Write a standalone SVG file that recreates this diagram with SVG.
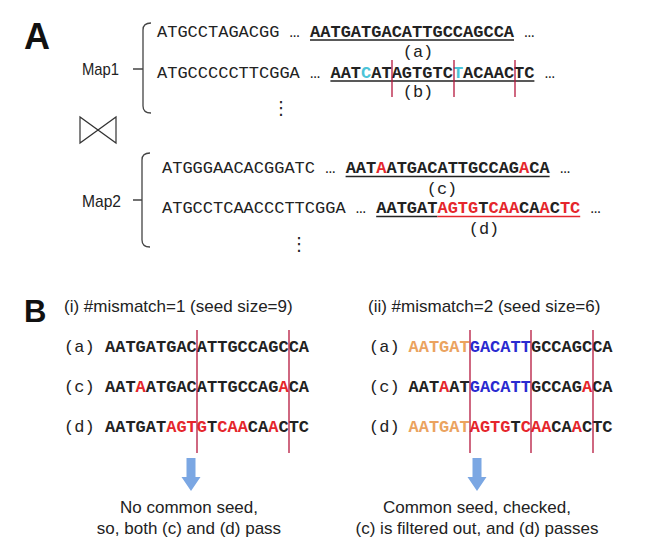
<svg xmlns="http://www.w3.org/2000/svg" width="654" height="548" viewBox="0 0 654 548">
<style>
.seq{font-family:"Liberation Mono","Courier New",monospace;font-size:17px;fill:#222}
.b{font-weight:bold}
.r{fill:#e5262c}
.cy{fill:#4cc4d8}
.bl{fill:#2a2ad0}
.or{fill:#eba35f}
.k{fill:#222}
.sans{font-family:"Liberation Sans",Arial,sans-serif;fill:#222}
.head{font-family:"Liberation Sans",Arial,sans-serif;font-weight:bold;fill:#111}
.vl{stroke:#b5163d;stroke-width:1.3}
.ul{stroke:#222;stroke-width:1.4}
.ulr{stroke:#e5262c;stroke-width:1.4}
.br{fill:none;stroke:#444;stroke-width:1.3}
.dots{font-family:"DejaVu Sans",sans-serif;font-size:18px;fill:#222}
</style>
<rect width="654" height="548" fill="#fff"/>

<g id="panelA">
  <text class="head" x="24" y="49" font-size="36">A</text>
  <g id="map1">
    <text class="sans" x="82" y="75" font-size="17" textLength="37" lengthAdjust="spacingAndGlyphs">Map1</text>
    <path class="br" d="M151,23 Q143,23 143,30 L143,106 Q143,113 151,113 M133,69 L143,69"/>
    <text class="seq" x="157" y="37">ATGCCTAGACGG … <tspan class="b">AATGATGACATTGCCAGCCA</tspan> …</text>
    <line class="ul" x1="310" y1="40" x2="514" y2="40"/>
    <text class="seq" x="418" y="57" text-anchor="middle">(a)</text>
    <text class="seq" x="157" y="78">ATGCCCCCTTCGGA … <tspan class="b">AAT<tspan class="cy">C</tspan>ATAGTGTC<tspan class="cy">T</tspan>ACAACTC</tspan> …</text>
    <line class="ul" x1="330.4" y1="81" x2="534.4" y2="81"/>
    <text class="seq" x="418" y="97" text-anchor="middle">(b)</text>
    <line class="vl" x1="392" y1="60" x2="392" y2="97"/>
    <line class="vl" x1="454" y1="60" x2="454" y2="97"/>
    <line class="vl" x1="515" y1="60" x2="515" y2="97"/>
    <text class="dots" x="281" y="114" text-anchor="middle">⋮</text>
  </g>
  <g id="bowtie">
    <path fill="none" stroke="#333" stroke-width="1.2" d="M80,117 L80,143 L116,117 L116,143 Z"/>
  </g>
  <g id="map2">
    <text class="sans" x="82" y="207" font-size="17" textLength="39" lengthAdjust="spacingAndGlyphs">Map2</text>
    <path class="br" d="M150,153 Q142,153 142,160 L142,240 Q142,247 150,247 M133,200 L142,200"/>
    <text class="seq" x="162" y="173">ATGGGAACACGGATC … <tspan class="b">AAT<tspan class="r">A</tspan>ATGACATTGCCAG<tspan class="r">A</tspan>CA</tspan> …</text>
    <line class="ul" x1="345.6" y1="176.5" x2="549.6" y2="176.5"/>
    <text class="seq" x="442" y="194" text-anchor="middle">(c)</text>
    <text class="seq" x="162" y="213">ATGCCTCAACCCTTCGGA … <tspan class="b">AATGAT<tspan class="r">AGTG</tspan>T<tspan class="r">CAA</tspan>CA<tspan class="r">A</tspan>C<tspan class="r">TC</tspan></tspan> …</text>
    <line class="ul" x1="376.2" y1="216.5" x2="437.4" y2="216.5"/>
    <line class="ulr" x1="437.4" y1="216.5" x2="580.2" y2="216.5"/>
    <text class="seq" x="484" y="234" text-anchor="middle">(d)</text>
    <text class="dots" x="299" y="250" text-anchor="middle">⋮</text>
  </g>
</g>

<g id="panelB">
  <text class="head" x="24" y="322" font-size="31">B</text>
  <g id="case1">
    <text class="sans" x="64" y="312" font-size="17">(i) #mismatch=1 (seed size=9)</text>
    <text class="seq" x="64" y="352">(a)</text>
    <text class="seq b" x="105" y="352">AATGATGACATTGCCAGCCA</text>
    <text class="seq" x="64" y="392">(c)</text>
    <text class="seq b" x="105" y="392">AAT<tspan class="r">A</tspan>ATGACATTGCCAG<tspan class="r">A</tspan>CA</text>
    <text class="seq" x="64" y="432">(d)</text>
    <text class="seq b" x="105" y="432">AATGAT<tspan class="r">AGTG</tspan>T<tspan class="r">CAA</tspan>CA<tspan class="r">A</tspan>CTC</text>
    <line class="vl" x1="197" y1="330" x2="197" y2="453"/>
    <line class="vl" x1="289" y1="330" x2="289" y2="453"/>
    <text class="sans" x="189" y="513" font-size="17" text-anchor="middle">No common seed,</text>
    <text class="sans" x="189" y="534" font-size="17" text-anchor="middle">so, both (c) and (d) pass</text>
  </g>
  <g id="case2">
    <text class="sans" x="368" y="312" font-size="17">(ii) #mismatch=2 (seed size=6)</text>
    <text class="seq" x="369" y="352">(a)</text>
    <text class="seq b" x="408.5" y="352"><tspan class="or">AATGAT</tspan><tspan class="bl">GACATT</tspan>GCCAGCCA</text>
    <text class="seq" x="369" y="392">(c)</text>
    <text class="seq b" x="408.5" y="392">AAT<tspan class="r">A</tspan>AT<tspan class="bl">GACATT</tspan>GCCAG<tspan class="r">A</tspan>CA</text>
    <text class="seq" x="369" y="432">(d)</text>
    <text class="seq b" x="408.5" y="432"><tspan class="or">AATGAT</tspan><tspan class="r">AGTG</tspan>T<tspan class="r">CAA</tspan>CA<tspan class="r">A</tspan>CTC</text>
    <line class="vl" x1="470" y1="330" x2="470" y2="453"/>
    <line class="vl" x1="531" y1="330" x2="531" y2="453"/>
    <line class="vl" x1="593" y1="330" x2="593" y2="453"/>
    <text class="sans" x="477" y="513" font-size="17" text-anchor="middle">Common seed, checked,</text>
    <text class="sans" x="477" y="534" font-size="17" text-anchor="middle">(c) is filtered out, and (d) passes</text>
  </g>
</g>

<g id="connectors">
  <path fill="#7ba7e3" d="M186.5,458 L195.5,458 L195.5,477 L200.5,477 L191,491 L181.5,477 L186.5,477 Z"/>
  <path fill="#7ba7e3" d="M472.5,458 L481.5,458 L481.5,477 L486.5,477 L477,491 L467.5,477 L472.5,477 Z"/>
</g>
</svg>
